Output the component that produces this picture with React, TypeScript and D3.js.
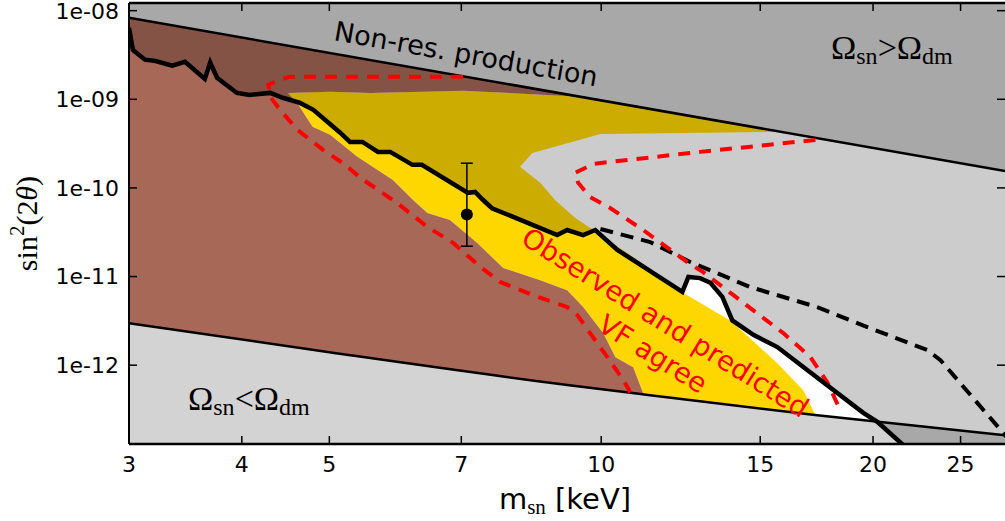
import React from 'react';
import * as d3 from 'd3';

type P = [number, number];

// axis ticks
const xTicks = [3, 4, 5, 7, 10, 15, 20, 25];
const yTicks = [1e-8, 1e-9, 1e-10, 1e-11, 1e-12];
const yTickLabels = ['1e-08', '1e-09', '1e-10', '1e-11', '1e-12'];

// Omega_sn = Omega_dm for non-resonant production (upper) and the lower bound
const nonResLine: P[] = [[3, 8.3e-9], [28, 1.55e-10]];
const underLine: P[] = [
  [3, 2.98e-12], [5.0, 1.4e-12], [9.22, 5.94e-13], [11.33, 4.58e-13], [17.35, 2.72e-13], [28, 1.62e-13],
];

// X-ray limit (solid) and forecast (dashed)
const xrayLimit: P[] = [
  [3.0, 6.4e-9], [3.03, 3.6e-9], [3.125, 2.8e-9], [3.21, 2.7e-9], [3.35, 2.4e-9], [3.46, 2.65e-9],
  [3.64, 1.7e-9], [3.69, 2.6e-9], [3.755, 1.75e-9], [3.95, 1.18e-9], [4.08, 1.12e-9], [4.3, 1.18e-9],
  [4.44, 1.04e-9], [4.64, 9.1e-10], [4.8, 7.6e-10], [5.14, 4.2e-10], [5.27, 3.3e-10], [5.44, 3.3e-10],
  [5.66, 2.55e-10], [5.84, 2.55e-10], [6.18, 1.82e-10], [6.33, 1.82e-10], [7.12, 8.8e-11], [7.25, 9.0e-11],
  [7.4, 7.3e-11], [7.57, 5.9e-11], [8.94, 2.94e-11], [9.17, 3.35e-11], [9.55, 2.94e-11], [9.85, 3.35e-11],
  [10.42, 2.0e-11], [12.3, 6.7e-12], [12.49, 9.9e-12], [12.87, 9.6e-12], [13.21, 8.5e-12], [13.62, 5.9e-12],
  [13.97, 3.2e-12], [14.74, 2.2e-12], [15.67, 1.6e-12], [16.91, 8.8e-13], [19.51, 2.9e-13], [20.22, 2.3e-13],
  [21.61, 1.25e-13],
];
const xrayForecast: P[] = [
  [9.98, 3.44e-11], [11.33, 2.45e-11], [12.55, 1.46e-11], [14.63, 7.6e-12], [17.35, 4.52e-12],
  [19.71, 2.69e-12], [22.97, 1.48e-12], [23.75, 1.14e-12], [28.2, 1.5e-13],
];

// VF agreement contour (red dashed), two visible pieces
const vfLeft: P[] = [
  [7.03, 1.8e-9], [4.52, 1.8e-9], [4.38, 1.62e-9], [4.28, 1.46e-9], [4.3, 1.07e-9], [4.41, 7.6e-10],
  [4.61, 4.52e-10], [4.92, 2.69e-10], [5.21, 1.82e-10], [5.41, 1.3e-10], [5.94, 6.8e-11], [6.42, 3.62e-11],
  [6.86, 2.39e-11], [7.35, 1.28e-11], [7.73, 8.7e-12], [8.39, 6.2e-12], [9.17, 4.52e-12], [9.41, 3.67e-12],
  [9.72, 2.3e-12], [10.16, 1.23e-12], [10.58, 6.8e-13], [10.77, 4.95e-13],
];
const vfRight: P[] = [
  [17.27, 3.48e-10], [12.87, 2.55e-10], [9.8, 1.87e-10], [9.36, 1.48e-10], [9.43, 1.14e-10], [9.72, 7.9e-11],
  [10.23, 5.94e-11], [11.13, 3.35e-11], [12.45, 1.46e-11], [12.97, 1.12e-11], [14.0, 6.2e-12],
  [15.91, 2.3e-12], [17.05, 1.23e-12], [17.8, 6.4e-13], [18.4, 3.1e-13],
];

// observed/predicted VF agree region (gold) edges
const goldTop: P[] = [[4.5, 1.18e-9], [5.01, 1.22e-9], [5.55, 1.18e-9], [7.03, 1.25e-9], [9.5, 1.07e-9]];
const goldRight: P[] = [
  [15.6, 4.3e-10], [9.98, 4.07e-10], [8.39, 2.48e-10], [8.13, 1.73e-10], [8.56, 1.14e-10], [8.89, 7.3e-11],
  [9.36, 4.58e-11], [9.8, 3.35e-11], [11.05, 1.46e-11], [12.33, 6.5e-12], [13.9, 3.2e-12], [15.67, 1.05e-12],
  [16.74, 5.2e-13], [17.27, 2.72e-13], [17.4, 1.0e-13],
];
// structure formation excluded region (brown) right edge
const brownEdge: P[] = [
  [4.62, 8.67e-10], [4.79, 4.89e-10], [5.01, 3.97e-10], [5.37, 2.24e-10], [5.88, 1.23e-10], [6.19, 7.3e-11],
  [6.42, 5.22e-11], [6.8, 4.35e-11], [7.29, 2.39e-11], [7.79, 1.25e-11], [8.56, 9.1e-12], [9.17, 7.0e-12],
  [9.55, 4.52e-12], [10.05, 2.3e-12], [10.37, 1.23e-12], [10.85, 9.5e-13], [11.13, 4.83e-13], [11.3, 1.0e-13],
];

// 3.5 keV line
const signal = { m: 7.1, s: 5.0e-11, lo: 2.2e-11, hi: 1.9e-10 };

const M = { left: 129, right: 1005, top: 3, bottom: 444 };
const X = d3.scaleLog().domain([3, 28]).range([M.left, M.right]);
const Y = d3.scaleLog().domain([1.29e-13, 1.22e-8]).range([M.bottom, M.top]);
const lo = Y.domain()[0] * 0.5;
const hi = Y.domain()[1] * 4;
const [x0, x1] = X.domain();

const line = d3.line<P>().x(d => X(d[0])).y(d => Y(d[1]));
const smooth = d3.line<P>().x(d => X(d[0])).y(d => Y(d[1])).curve(d3.curveMonotoneX);
const poly = (pts: P[]) => line(pts) + 'Z';

const sans = 'DejaVu Sans';
const serif = 'Liberation Serif';

export default function App() {
  const goldPoly: P[] = [
    ...goldTop, ...goldRight, [brownEdge[brownEdge.length - 1][0], lo], ...[...brownEdge].reverse(),
  ];
  const brownPoly: P[] = [[x0, hi], ...[...goldTop].reverse(), ...brownEdge, [x0, lo]];
  const upperGray: P[] = [...nonResLine, [x1, hi], [x0, hi]];
  const lowerGray: P[] = [...underLine, [x1, lo], [x0, lo]];
  const xrayShade: P[] = [...xrayLimit, [x1, lo], [x1, hi], [x0, hi]];

  const cx = X(signal.m);
  return (
    <svg width={1005} height={521} style={{ position: 'absolute', left: 0, top: 0, background: '#fff' }}>
      <defs>
        <clipPath id="plot">
          <rect x={M.left} y={M.top} width={M.right - M.left} height={M.bottom - M.top} />
        </clipPath>
      </defs>
      <g clipPath="url(#plot)">
        <rect x={M.left} y={M.top} width={M.right - M.left} height={M.bottom - M.top} fill="#fff" />
        <path d={poly(goldPoly)} fill="#ffd700" />
        <path d={poly(brownPoly)} fill="#a76858" />
        <path d={poly(upperGray)} fill="#d3d3d3" />
        <path d={poly(lowerGray)} fill="#d3d3d3" />
        <path d={poly(xrayShade)} fill="#000" fillOpacity={0.2} />
        <path d={line(nonResLine)!} fill="none" stroke="#000" strokeWidth={2.5} />
        <path d={smooth(underLine)!} fill="none" stroke="#000" strokeWidth={2.5} />
        <path d={line(xrayForecast)!} fill="none" stroke="#000" strokeWidth={4} strokeDasharray="13,8" />
        <path d={line(vfLeft)!} fill="none" stroke="#ff0000" strokeWidth={4} strokeDasharray="12,9" />
        <path d={line(vfRight)!} fill="none" stroke="#ff0000" strokeWidth={4} strokeDasharray="12,9" />
        <path d={line(xrayLimit)!} fill="none" stroke="#000" strokeWidth={4.5} />
        <g stroke="#000" strokeWidth={1.5}>
          <line x1={cx} x2={cx} y1={Y(signal.lo)} y2={Y(signal.hi)} />
          <line x1={cx - 6} x2={cx + 6} y1={Y(signal.lo)} y2={Y(signal.lo)} />
          <line x1={cx - 6} x2={cx + 6} y1={Y(signal.hi)} y2={Y(signal.hi)} />
        </g>
        <circle cx={cx} cy={Y(signal.s)} r={6} fill="#000" />
      </g>

      {/* annotations */}
      <text transform="translate(333,40) rotate(10)" fontFamily={sans} fontSize={27} fill="#000">
        Non-res. production
      </text>
      <text x={831} y={59} fontFamily={serif} fontSize={34} fill="#000">
        Ω<tspan fontSize={24} dy={5}>sn</tspan>
        <tspan dy={-5}>&gt;</tspan>Ω<tspan fontSize={24} dy={5}>dm</tspan>
      </text>
      <text x={188} y={410} fontFamily={serif} fontSize={34} fill="#000">
        Ω<tspan fontSize={24} dy={5}>sn</tspan>
        <tspan dy={-5}>&lt;</tspan>Ω<tspan fontSize={24} dy={5}>dm</tspan>
      </text>
      <g transform="translate(665,323) rotate(32)" fontFamily={sans} fontSize={27.5} fill="#ff0000" textAnchor="middle">
        <text x={0} y={9}>Observed and predicted</text>
        <text x={6} y={42}>VF agree</text>
      </g>

      {/* spines */}
      <g stroke="#000" fill="none">
        <line x1={M.left} x2={M.left} y1={M.top} y2={M.bottom} strokeWidth={2} />
        <line x1={M.left} x2={M.right} y1={M.top} y2={M.top} strokeWidth={2.5} />
        <line x1={M.left} x2={M.right} y1={M.bottom} y2={M.bottom} strokeWidth={2.5} />
      </g>
      {/* ticks */}
      <g stroke="#000" strokeWidth={1.5}>
        {xTicks.map(t => (
          <g key={'xt' + t}>
            <line x1={X(t)} x2={X(t)} y1={M.bottom} y2={M.bottom - 8} />
            <line x1={X(t)} x2={X(t)} y1={M.top} y2={M.top + 8} />
          </g>
        ))}
        {yTicks.map(t => (
          <g key={'yt' + t}>
            <line x1={M.left} x2={M.left + 8} y1={Y(t)} y2={Y(t)} />
            <line x1={M.right} x2={M.right - 8} y1={Y(t)} y2={Y(t)} />
          </g>
        ))}
      </g>
      <g fontFamily={sans} fontSize={22} fill="#000">
        {xTicks.map(t => (
          <text key={'xl' + t} x={X(t)} y={472} textAnchor="middle">{t}</text>
        ))}
        {yTicks.map((t, i) => (
          <text key={'yl' + t} x={119} y={Y(t)} dy="0.36em" textAnchor="end">{yTickLabels[i]}</text>
        ))}
      </g>

      {/* axis titles */}
      <text x={(M.left + M.right) / 2 - 2} y={509} textAnchor="middle" fontSize={29} fontFamily={sans} fill="#000">
        m<tspan fontFamily={serif} fontSize={21} dy={5}>sn</tspan>
        <tspan dy={-5}> [keV]</tspan>
      </text>
      <text transform={`translate(37,${(M.top + M.bottom) / 2}) rotate(-90)`} textAnchor="middle" fontFamily={serif} fontSize={30} fill="#000">
        sin<tspan fontSize={21} dy={-13}>2</tspan>
        <tspan dy={13}>(2</tspan><tspan fontStyle="italic">θ</tspan>)
      </text>
    </svg>
  );
}
